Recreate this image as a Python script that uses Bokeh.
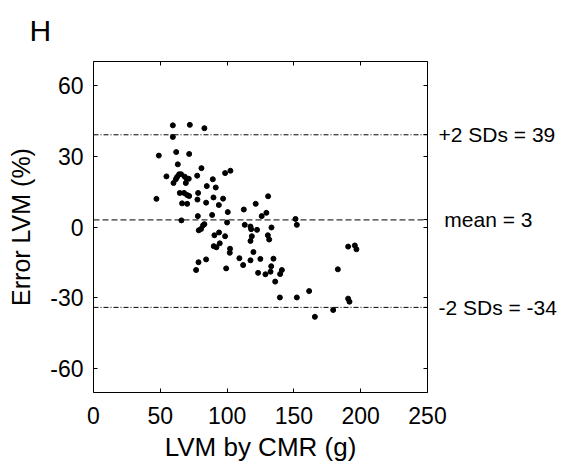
from bokeh.plotting import figure
from bokeh.models import Span, LinearAxis, Range1d, FixedTicker, Title
from bokeh.embed import file_html
from bokeh.resources import INLINE

lvm_cmr = [47.1, 48.9, 54.6, 59.4, 59.4, 59.9, 61.9, 63.1, 61.6, 62.6, 64.1, 64.6, 65.6, 66.3, 65.8,
           67.8, 68.3, 69.6, 69.1, 70.1, 70.1, 71.6, 72.1, 71.3, 71.6, 77.6, 78.3, 77.8, 78.1, 78.8,
           78.6, 76.8, 80.8, 80.5, 82.0, 83.0, 84.3, 84.8, 84.3, 83.0, 88.8, 89.3, 89.8, 90.5, 90.0,
           91.5, 92.0, 93.8, 94.0, 94.5, 97.0, 98.5, 98.5, 99.3, 100.5, 100.0, 102.5, 102.2, 102.0,
           109.2, 112.5, 113.2, 112.0, 117.5, 118.0, 118.5, 117.5, 117.5, 119.7, 121.4, 122.4, 123.2,
           124.9, 125.9, 129.4, 128.7, 130.7, 130.5, 131.5, 132.5, 133.0, 133.2, 134.7, 136.0, 139.5,
           139.7, 141.0, 151.2, 152.2, 152.2, 161.4, 165.7, 179.4, 182.9, 190.6, 190.6, 191.6, 195.6,
           196.8]
error_lvm = [11.9, 30.2, 21.4, 43.0, 38.1, 18.6, 31.7, 26.5, 20.2, 21.2, 22.3, 14.4, 22.3, 10.0, 2.8,
             14.4, 21.3, 20.5, 18.6, 13.5, 9.8, 30.9, 43.2, 20.4, 13.1, 21.7, 14.4, 11.6, 4.6, -1.4,
             -14.9, -18.2, 24.9, -0.8, 0.7, 41.8, 10.3, 17.3, -13.7, 1.2, 5.1, 20.2, 12.5, -3.5, -8.1,
             16.7, -8.6, 9.3, -2.3, -6.9, 12.0, 22.8, -3.9, -17.5, 6.3, 1.9, 23.8, -9.2, -10.9,
             -13.2, 7.4, 0.9, -16.1, 0.2, -0.9, -3.9, -5.9, -14.1, -10.6, 9.8, -1.2, -19.4,
             -13.5, 4.6, 6.0, -20.0, 13.0, -3.5, -5.3, -18.9, -16.6, -0.2, -13.4, -23.1, -29.8,
             -19.9, -18.2, 3.4, 0.9, -29.8, -27.1, -38.0, -35.1, -17.9, -8.3, -30.3, -31.6, -7.8,
             -9.4]

mean_val = 3
upper_val = 39
lower_val = -34
ref_values = [upper_val, mean_val, lower_val]
ref_labels = ["+2 SDs = 39", "\u00a0mean = 3", "-2 SDs = -34"]

x_ticks = [0, 50, 100, 150, 200, 250]
y_ticks = [-60, -30, 0, 30, 60]
y_tick_labels = ["-60", "-30", "0", "30", "60"]

FONT = "Liberation Sans"

p = figure(width=572, height=464, output_backend="svg", toolbar_location=None,
           x_range=Range1d(0, 250), y_range=Range1d(-70, 70),
           min_border_left=93, min_border_right=145, min_border_top=60, min_border_bottom=70,
           x_axis_label="LVM by CMR (g)", y_axis_label="Error LVM (%)")
p.grid.visible = False
p.outline_line_color = "black"
p.outline_line_width = 1
p.background_fill_color = "white"
p.border_fill_color = "white"

for ax in [p.xaxis[0], p.yaxis[0]]:
    ax.axis_line_color = None
    ax.major_tick_in = 4
    ax.major_tick_out = 0
    ax.minor_tick_line_color = None
    ax.major_tick_line_color = "black"
    ax.major_label_text_font = FONT
    ax.major_label_text_font_size = "23px"
    ax.major_label_text_color = "black"
    ax.axis_label_text_font = FONT
    ax.axis_label_text_font_style = "normal"
    ax.axis_label_text_color = "black"

p.xaxis[0].axis_label_text_font_size = "26px"
p.yaxis[0].axis_label_text_font_size = "25px"
p.xaxis[0].ticker = FixedTicker(ticks=x_ticks)
p.yaxis[0].ticker = FixedTicker(ticks=y_ticks)
p.yaxis[0].major_label_overrides = dict(zip(y_ticks, y_tick_labels))
p.xaxis[0].major_label_standoff = 14
p.xaxis[0].axis_label_standoff = 5
p.yaxis[0].major_label_standoff = 10
p.yaxis[0].axis_label_standoff = 12

top_ax = LinearAxis(ticker=FixedTicker(ticks=x_ticks), axis_line_color=None,
                    major_tick_in=4, major_tick_out=0, minor_tick_line_color=None,
                    major_label_overrides={t: "" for t in x_ticks}, major_label_standoff=0)
p.add_layout(top_ax, "above")

right_ticks = y_ticks + ref_values
right_labels = {t: "" for t in y_ticks}
right_labels.update(dict(zip(ref_values, ref_labels)))
right_ax = LinearAxis(ticker=FixedTicker(ticks=right_ticks), axis_line_color=None,
                      major_tick_in=4, major_tick_out=0, minor_tick_line_color=None,
                      major_label_overrides=right_labels, major_label_standoff=11,
                      major_label_text_font=FONT, major_label_text_font_size="21px",
                      major_label_text_color="black")
p.add_layout(right_ax, "right")

p.add_layout(Span(location=upper_val, dimension="width", line_color="black",
                  line_width=1, line_dash="5 2 1 2"))
p.add_layout(Span(location=lower_val, dimension="width", line_color="black",
                  line_width=1, line_dash="5 2 1 2"))
p.add_layout(Span(location=mean_val, dimension="width", line_color="black",
                  line_width=1, line_dash="6 3"))

p.scatter(lvm_cmr, error_lvm, size=5, color="black")

t = Title(text="H", text_font=FONT, text_font_size="30px", text_font_style="normal",
          text_line_height=1.0, align="left", offset=-64, standoff=26, vertical_align="top",
          text_color="black")
p.add_layout(t, "above")

open("out.html", "w").write(file_html(p, INLINE))
